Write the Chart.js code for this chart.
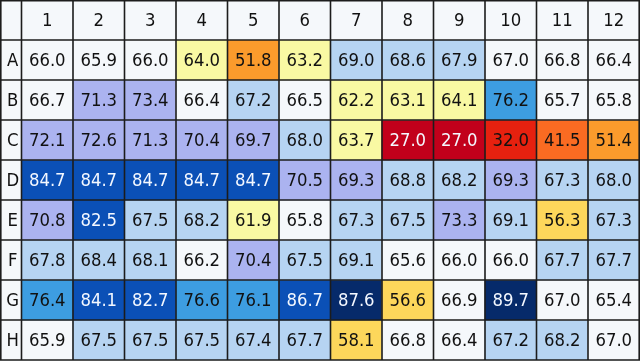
<!DOCTYPE html>
<html>
<head>
<meta charset="utf-8">
<script src="https://cdn.jsdelivr.net/npm/chart.js@4.4.1/dist/chart.umd.min.js"></script>
<style>
  html, body { margin: 0; padding: 0; background: #fff; }
  #wrap { width: 640px; height: 361px; }
</style>
</head>
<body>
<div id="wrap"><canvas id="plate" width="640" height="361"></canvas></div>
<script>
// plate layout
const cols = ['1', '2', '3', '4', '5', '6', '7', '8', '9', '10', '11', '12'];
const rows = ['A', 'B', 'C', 'D', 'E', 'F', 'G', 'H'];

// well values per row
const rowA = [66.0, 65.9, 66.0, 64.0, 51.8, 63.2, 69.0, 68.6, 67.9, 67.0, 66.8, 66.4];
const rowB = [66.7, 71.3, 73.4, 66.4, 67.2, 66.5, 62.2, 63.1, 64.1, 76.2, 65.7, 65.8];
const rowC = [72.1, 72.6, 71.3, 70.4, 69.7, 68.0, 63.7, 27.0, 27.0, 32.0, 41.5, 51.4];
const rowD = [84.7, 84.7, 84.7, 84.7, 84.7, 70.5, 69.3, 68.8, 68.2, 69.3, 67.3, 68.0];
const rowE = [70.8, 82.5, 67.5, 68.2, 61.9, 65.8, 67.3, 67.5, 73.3, 69.1, 56.3, 67.3];
const rowF = [67.8, 68.4, 68.1, 66.2, 70.4, 67.5, 69.1, 65.6, 66.0, 66.0, 67.7, 67.7];
const rowG = [76.4, 84.1, 82.7, 76.6, 76.1, 86.7, 87.6, 56.6, 66.9, 89.7, 67.0, 65.4];
const rowH = [65.9, 67.5, 67.5, 67.5, 67.4, 67.7, 58.1, 66.8, 66.4, 67.2, 68.2, 67.0];
const plate = [rowA, rowB, rowC, rowD, rowE, rowF, rowG, rowH];

// discrete colour bins
function cellColor(v) {
    if (v < 30) return '#c2001b';
    if (v < 35) return '#e6210f';
    if (v < 45) return '#fa6b22';
    if (v < 55) return '#fb9b2c';
    if (v < 60) return '#fdd75b';
    if (v < 65) return '#f9f9a3';
    if (v < 67.1) return '#f5f8fb';
    if (v < 69.2) return '#b6d4f2';
    if (v < 74) return '#abb3f0';
    if (v < 80) return '#3d9de1';
    if (v < 87) return '#0b50b6';
    return '#062a6a';
}
function textColor(v) {
    return (v >= 80 || v < 30) ? '#f4f8ff' : '#111111';
}

const FONT = '16.5px "DejaVu Sans"';
const STRETCH = 1.1;
const LINE = '#1c1c1c';

function drawText(ctx, txt, x, y, color) {
    ctx.save();
    ctx.translate(x, y);
    ctx.scale(1, STRETCH);
    ctx.fillStyle = color;
    ctx.font = FONT;
    ctx.textAlign = 'center';
    ctx.textBaseline = 'middle';
    ctx.fillText(txt, 0, 1);
    ctx.restore();
}

const tablePlugin = {
    id: 'plateTable',
    beforeDraw(chart) {
        const ctx = chart.ctx;
        ctx.save();
        ctx.fillStyle = '#f5f8fb';
        ctx.fillRect(0, 0, chart.width, chart.height);
        ctx.restore();
    },
    afterDatasetsDraw(chart) {
        const ctx = chart.ctx;
        const x = chart.scales.x;
        const y = chart.scales.y;
        const area = chart.chartArea;
        const cw = (area.right - area.left) / cols.length;

        // values inside cells
        plate.forEach((vals, r) => {
            const cy = (y.getPixelForValue(r) + y.getPixelForValue(r + 1)) / 2;
            vals.forEach((v, c) => {
                drawText(ctx, v.toFixed(1), x.getPixelForValue(c), cy, textColor(v));
            });
        });

        // column headers
        cols.forEach((lab, c) => {
            drawText(ctx, lab, x.getPixelForValue(c), area.top / 2, '#111111');
        });
        // row headers
        rows.forEach((lab, r) => {
            const cy = (y.getPixelForValue(r) + y.getPixelForValue(r + 1)) / 2;
            drawText(ctx, lab, area.left / 2 + 2, cy, '#111111');
        });

        // grid lines
        ctx.save();
        ctx.strokeStyle = LINE;
        ctx.lineWidth = 1.6;
        ctx.beginPath();
        const xs = [0.8, area.left];
        for (let c = 1; c <= cols.length; c++) xs.push(area.left + c * cw);
        xs[xs.length - 1] = chart.width - 0.8;
        xs.forEach(px => { ctx.moveTo(px, 0); ctx.lineTo(px, area.bottom); });
        const ys = [0.8];
        for (let r = 0; r <= rows.length; r++) ys.push(y.getPixelForValue(r));
        ys.forEach(py => { ctx.moveTo(0, py); ctx.lineTo(chart.width, py); });
        ctx.stroke();
        ctx.restore();
    }
};

const datasets = plate.map((vals, r) => ({
    label: rows[r],
    data: vals.map(() => [r, r + 1]),
    backgroundColor: vals.map(cellColor),
    borderWidth: 0,
    categoryPercentage: 1.0,
    barPercentage: 1.0,
    grouped: false
}));

const ctx = document.getElementById('plate').getContext('2d');
new Chart(ctx, {
    type: 'bar',
    data: {
        labels: cols,
        datasets: datasets
    },
    options: {
        responsive: false,
        animation: false,
        layout: {
            padding: { top: 40, left: 21.5, right: 0.5, bottom: 1 }
        },
        scales: {
            x: { display: false, offset: true },
            y: { display: false, min: 0, max: 8, reverse: true }
        },
        plugins: {
            legend: { display: false },
            tooltip: { enabled: false }
        }
    },
    plugins: [tablePlugin]
});
</script>
</body>
</html>
